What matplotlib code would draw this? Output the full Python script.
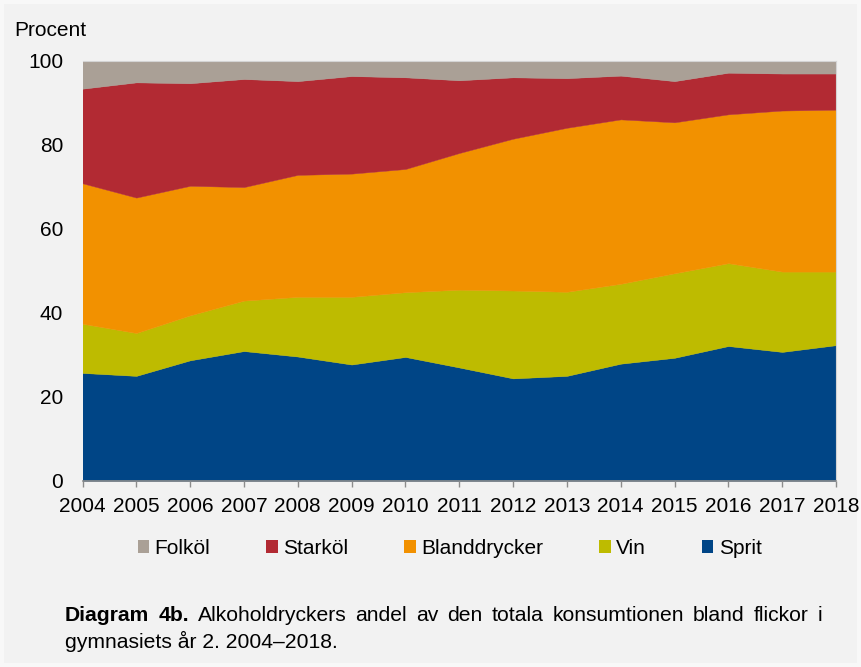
import matplotlib.pyplot as plt
from matplotlib.patches import Patch, Rectangle

plt.rcParams['font.family'] = ['Liberation Sans', 'DejaVu Sans']

# Data (percent of total consumption)
years = list(range(2004, 2019))
sprit = [25.7, 25.0, 28.7, 30.9, 29.6, 27.7, 29.5, 27.0, 24.4, 25.0, 27.9, 29.3, 32.1, 30.7, 32.3]
vin = [11.7, 10.2, 10.7, 12.0, 14.2, 16.1, 15.4, 18.5, 20.9, 20.0, 19.0, 20.1, 19.7, 19.1, 17.5]
bland = [33.4, 32.2, 30.8, 27.0, 29.0, 29.3, 29.3, 32.5, 36.1, 39.0, 39.1, 35.9, 35.4, 38.3, 38.5]
stark = [22.5, 27.4, 24.4, 25.7, 22.3, 23.2, 21.8, 17.3, 14.6, 11.8, 10.4, 9.8, 9.9, 8.8, 8.6]
folkol = [6.7, 5.2, 5.4, 4.4, 4.9, 3.7, 4.0, 4.7, 4.0, 4.2, 3.6, 4.9, 2.9, 3.1, 3.1]

labels = ['Sprit', 'Vin', 'Blanddrycker', 'Starköl', 'Folköl']
colors = ['#004586', '#bebb00', '#f29100', '#b22a33', '#aaa096']
yticks = [0, 20, 40, 60, 80, 100]

caption_bold = 'Diagram 4b.'
caption_line1 = 'Alkoholdryckers andel av den totala konsumtionen bland flickor i'
caption_line2 = 'gymnasiets år 2. 2004–2018.'

W, H = 861, 667
bg = '#f2f2f2'
fig = plt.figure(figsize=(W / 100, H / 100), dpi=100, facecolor='#f8f8f8')
fig.patches.append(Rectangle((4 / W, 4 / H), (W - 8) / W, (H - 8) / H,
                             transform=fig.transFigure, facecolor=bg,
                             edgecolor='none', zorder=-10))

ax = fig.add_axes([82.5 / W, 1 - 481 / H, (836 - 82.5) / W, (481 - 60.5) / H])
ax.set_facecolor(bg)

ax.stackplot(years, sprit, vin, bland, stark, folkol, colors=colors,
             labels=labels, linewidth=0.3, edgecolor='face')

ax.set_xlim(2004, 2018)
ax.set_ylim(0, 100)
ax.set_xticks(years)
ax.set_xticklabels([str(y) for y in years])
ax.set_yticks(yticks)

ax.tick_params(axis='x', length=4.5, width=1, color='#8c8c8c', pad=7, labelsize=15)
ax.tick_params(axis='y', length=0, pad=14, labelsize=15)

ax.spines['left'].set_visible(False)
ax.spines['bottom'].set_color('#8c8c8c')
ax.spines['bottom'].set_linewidth(1.2)
for s in ['top', 'right']:
    ax.spines[s].set_color('#d4d4d4')
    ax.spines[s].set_linewidth(0.8)

fig.text(14 / W, 1 - 30 / H, 'Procent', fontsize=15, ha='left', va='center')

# legend in the reference order: Folköl, Starköl, Blanddrycker, Vin, Sprit
handles = [Patch(facecolor=c, edgecolor='none') for c in colors[::-1]]
fig.legend(handles, labels[::-1], loc='center', ncol=5,
           bbox_to_anchor=(449.5 / W, 1 - 548.5 / H), frameon=False,
           fontsize=15, handlelength=0.55, handleheight=0.55,
           handletextpad=0.25, columnspacing=2.7, borderpad=0)

# caption, first line justified between x=65 and x=822
cap_size = 15.2
renderer = fig.canvas.get_renderer()
words = [(w, 'bold') for w in caption_bold.split()] + \
        [(w, 'normal') for w in caption_line1.split()]
arts = []
for w, wt in words:
    arts.append(fig.text(0, 1 - 621 / H, w, fontsize=cap_size, fontweight=wt,
                         ha='left', va='baseline'))
widths = [a.get_window_extent(renderer).width for a in arts]
gap = (822 - 65 - sum(widths)) / (len(arts) - 1)
x = 65
for a, wd in zip(arts, widths):
    a.set_x(x / W)
    x += wd + gap
fig.text(65 / W, 1 - 648 / H, caption_line2, fontsize=cap_size,
         ha='left', va='baseline')

fig.savefig('out.png', dpi=100, facecolor=fig.get_facecolor())
